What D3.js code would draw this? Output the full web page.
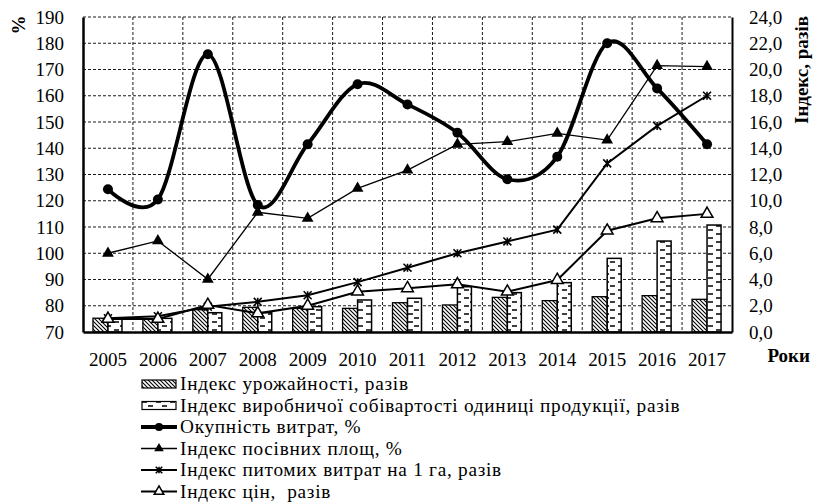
<!DOCTYPE html>
<html>
<head>
<meta charset="utf-8">
<script src="https://cdn.jsdelivr.net/npm/d3@7"></script>
<style>
  body { margin: 0; background: #fff; }
  svg text { font-family: "Liberation Serif", "Times New Roman", serif !important; fill: #000; }
</style>
</head>
<body>
<svg id="chart" width="813" height="502"></svg>
<script>
// data
const years = ['2005','2006','2007','2008','2009','2010','2011','2012','2013','2014','2015','2016','2017']
const yieldIdx = [1.05, 0.97, 1.7, 1.88, 1.8, 1.8, 2.23, 2.06, 2.64, 2.39, 2.69, 2.77, 2.49]      // Індекс урожайності, разів
const costIdx = [1.0, 1.04, 1.47, 1.47, 1.93, 2.44, 2.57, 3.45, 3.0, 3.76, 5.61, 6.93, 8.15]        // Індекс виробничої собівартості
const payback = [124.4, 120.5, 175.8, 118.4, 141.5, 164.4, 156.7, 145.9, 128.2, 136.8, 180.0, 162.8, 141.5] // Окупність витрат, %
const areaIdx = [100, 104.7, 90.1, 115.6, 113.3, 124.7, 131.7, 141.5, 142.5, 145.7, 143.1, 171.5, 171.1]   // Індекс посівних площ, %
const specCost = [1.05, 1.2, 1.93, 2.3, 2.8, 3.8, 4.9, 6.0, 6.9, 7.8, 12.85, 15.7, 18.0]           // Індекс питомих витрат на 1 га
const priceIdx = [1.0, 1.0, 2.06, 1.42, 2.0, 3.07, 3.33, 3.63, 3.07, 3.96, 7.72, 8.66, 9.0]          // Індекс цін
const leftTicks = d3.range(70, 191, 10)
const rightTicks = d3.range(0, 24.1, 2)

const svg = d3.select('#chart')
const margin = {top: 17, right: 81, bottom: 170, left: 83}
const W = 813, H = 502
const x0 = margin.left, x1 = W - margin.right, yTop = margin.top, yBot = H - margin.bottom
const FS = 19, LFS = 19.3

const x = d3.scaleBand().domain(years).range([x0, x1]).padding(0)
const yL = d3.scaleLinear().domain([70, 190]).range([yBot, yTop])
const yR = d3.scaleLinear().domain([0, 24]).range([yBot, yTop])
const cx = d => x(d) + x.bandwidth() / 2

// patterns
const defs = svg.append('defs')
const hatch = defs.append('pattern').attr('id', 'hatch').attr('patternUnits', 'userSpaceOnUse')
    .attr('width', 4).attr('height', 4)
hatch.append('rect').attr('width', 4).attr('height', 4).attr('fill', '#fff')
hatch.append('path').attr('d', 'M0,0L4,4M-1,3L1,5M3,-1L5,1').attr('stroke', '#000').attr('stroke-width', 1.1)

const dash = defs.append('pattern').attr('id', 'dash').attr('patternUnits', 'userSpaceOnUse')
    .attr('width', 14).attr('height', 8)
dash.append('rect').attr('width', 14).attr('height', 8).attr('fill', '#fff')
dash.append('path').attr('d', 'M2,2H7M8,6H13').attr('stroke', '#000').attr('stroke-width', 1.4)

// grid
const grid = svg.append('g').attr('stroke', '#000').attr('stroke-width', 0.9).attr('stroke-dasharray', '3,2')
grid.selectAll('line.h').data(leftTicks.slice(1)).join('line')
    .attr('x1', x0).attr('x2', x1).attr('y1', d => yL(d)).attr('y2', d => yL(d))
grid.selectAll('line.v').data(years.slice(1)).join('line')
    .attr('x1', d => x(d)).attr('x2', d => x(d)).attr('y1', yTop).attr('y2', yBot)

// bars
const bw = 15
svg.append('g').selectAll('rect').data(yieldIdx).join('rect')
    .attr('x', (d, i) => cx(years[i]) - bw).attr('width', bw)
    .attr('y', d => yR(d)).attr('height', d => yBot - yR(d))
    .attr('fill', 'url(#hatch)').attr('stroke', '#000').attr('stroke-width', 1.3)
svg.append('g').selectAll('rect').data(costIdx).join('rect')
    .attr('x', (d, i) => cx(years[i])).attr('width', bw - 1)
    .attr('y', d => yR(d)).attr('height', d => yBot - yR(d))
    .attr('fill', 'url(#dash)').attr('stroke', '#000').attr('stroke-width', 1.5)

// lines
const lineL = d3.line().x((d, i) => cx(years[i])).y(d => yL(d))
const lineR = d3.line().x((d, i) => cx(years[i])).y(d => yR(d))
const smooth = d3.line().x((d, i) => cx(years[i])).y(d => yL(d)).curve(d3.curveCardinal.tension(0))

svg.append('path').datum(areaIdx).attr('d', lineL).attr('fill', 'none').attr('stroke', '#000').attr('stroke-width', 1.3)
svg.append('path').datum(specCost).attr('d', lineR).attr('fill', 'none').attr('stroke', '#000').attr('stroke-width', 2)
svg.append('path').datum(priceIdx).attr('d', lineR).attr('fill', 'none').attr('stroke', '#000').attr('stroke-width', 2)
svg.append('path').datum(payback).attr('d', smooth)
    .attr('fill', 'none').attr('stroke', '#000').attr('stroke-width', 3.8)

// markers
const star = s => `M${-s},${-s}L${s},${s}M${-s},${s}L${s},${-s}M0,${-s}L0,${s}`

function drawMarker(g, kind, px, py, sz = 60) {
  const tri = d3.symbol().type(d3.symbolTriangle).size(sz)
  if (kind === 'circle') g.append('circle').attr('cx', px).attr('cy', py).attr('r', Math.sqrt(sz) / 1.55).attr('fill', '#000')
  if (kind === 'tri') g.append('path').attr('d', tri()).attr('transform', `translate(${px},${py})`).attr('fill', '#000')
  if (kind === 'star') g.append('path').attr('d', star(Math.sqrt(sz) / 1.95)).attr('transform', `translate(${px},${py})`)
      .attr('stroke', '#000').attr('stroke-width', 1.6).attr('fill', 'none')
  if (kind === 'otri') g.append('path').attr('d', tri()).attr('transform', `translate(${px},${py})`)
      .attr('fill', '#fff').attr('stroke', '#000').attr('stroke-width', 1.5)
}
const mk = svg.append('g')
areaIdx.forEach((d, i) => drawMarker(mk, 'tri', cx(years[i]), yL(d)))
specCost.forEach((d, i) => drawMarker(mk, 'star', cx(years[i]), yR(d)))
priceIdx.forEach((d, i) => drawMarker(mk, 'otri', cx(years[i]), yR(d)))
payback.forEach((d, i) => drawMarker(mk, 'circle', cx(years[i]), yL(d)))

// axes
const axL = svg.append('g').attr('transform', `translate(${x0},0)`)
    .call(d3.axisLeft(yL).tickValues(leftTicks).tickSize(0).tickPadding(19))
const axR = svg.append('g').attr('transform', `translate(${x1},0)`)
    .call(d3.axisRight(yR).tickValues(rightTicks).tickSize(0).tickPadding(17)
      .tickFormat(d => d3.format('.1f')(d).replace('.', ',')))
const axB = svg.append('g').attr('transform', `translate(0,${yBot})`)
    .call(d3.axisBottom(x).tickSize(0).tickPadding(21))
;[axL, axR, axB].forEach(a => {
  a.attr('font-family', null).attr('font-size', null)
  a.selectAll('text').style('font-size', FS + 'px')
  a.select('.domain').attr('stroke', '#000')
})
axL.select('.domain').attr('stroke-width', 2.5)
axR.select('.domain').attr('stroke-width', 2)
axB.select('.domain').attr('stroke-width', 2.5)

// titles
svg.append('text').attr('transform', 'translate(25,25) rotate(-90)').attr('text-anchor', 'middle')
    .style('font-size', FS + 'px').attr('font-weight', 'bold').text('%')
svg.append('text').attr('transform', 'translate(808,70) rotate(-90)').attr('text-anchor', 'middle')
    .style('font-size', FS + 'px').attr('font-weight', 'bold').text('Індекс, разів')
svg.append('text').attr('x', 810).attr('y', 362).attr('text-anchor', 'end')
    .style('font-size', FS + 'px').attr('font-weight', 'bold').text('Роки')

// legend
const legendItems = [
  {name: 'Індекс урожайності, разів', kind: 'bar', fill: 'url(#hatch)'},
  {name: 'Індекс виробничої собівартості одиниці продукції, разів', kind: 'bar', fill: 'url(#dash)'},
  {name: 'Окупність витрат, %', kind: 'line', m: 'circle', w: 4},
  {name: 'Індекс посівних площ, %', kind: 'line', m: 'tri', w: 1.5},
  {name: 'Індекс питомих витрат на 1 га, разів', kind: 'line', m: 'star', w: 2},
  {name: 'Індекс цін,  разів', kind: 'line', m: 'otri', w: 2}
]
const lg = svg.append('g')
legendItems.forEach((it, i) => {
  const base = 390 + i * 21.5
  const yy = base - 6
  if (it.kind === 'bar') {
    lg.append('rect').attr('x', 142).attr('y', yy - 4).attr('width', 34).attr('height', 8)
      .attr('fill', it.fill).attr('stroke', '#000').attr('stroke-width', 1.2)
  } else {
    lg.append('line').attr('x1', 141).attr('x2', 177).attr('y1', yy).attr('y2', yy)
      .attr('stroke', '#000').attr('stroke-width', it.w)
    drawMarker(lg, it.m, 159, yy, 40)
  }
  lg.append('text').attr('x', 180).attr('y', base).style('font-size', LFS + 'px')
    .style('letter-spacing', '0.72px').style('white-space', 'pre').text(it.name)
})
</script>
</body>
</html>
